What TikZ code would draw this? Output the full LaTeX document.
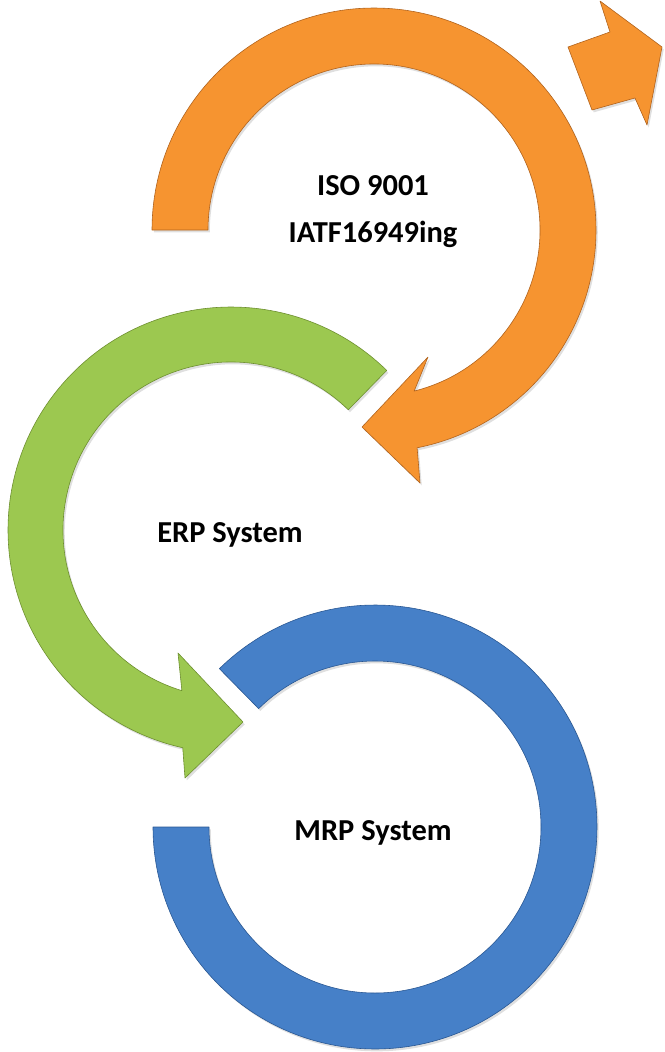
\documentclass[tikz,border=0pt]{standalone}
\usepackage{fontspec}
\setmainfont{Carlito}
\usepackage{xcolor}
\usetikzlibrary{calc}
\usetikzlibrary{shadows}

\definecolor{isofill}{RGB}{246,148,48}
\definecolor{isoedge}{RGB}{176,98,28}
\definecolor{erpfill}{RGB}{156,200,80}
\definecolor{erpedge}{RGB}{108,142,46}
\definecolor{mrpfill}{RGB}{70,128,200}
\definecolor{mrpedge}{RGB}{40,86,146}

\begin{document}
\begin{tikzpicture}[x=0.03cm, y=-0.03cm,
    ringarrow/.style={line width=0.5pt, line join=round,
      drop shadow={opacity=0.25, shadow xshift=1.5pt, shadow yshift=-2pt}},
    ringlabel/.style={font=\bfseries\fontsize{26}{40}\selectfont, align=center}]
  % picture in pixel units, origin at upper left corner
  \useasboundingbox (0,0) rectangle (664,1052);
  \def\rout{222}
  \def\rin{166}
  % centres of the three rings
  \coordinate (isoc) at (374,230);
  \coordinate (erpc) at (231,530);
  \coordinate (mrpc) at (375,827);

  % orange ring arrow, clockwise from the left end
  \path[ringarrow, fill=isofill, draw=isoedge]
    ($(isoc)+(180:\rout)$) arc[start angle=180, end angle=438.8, radius=\rout]
    -- (420,483) -- (362,427) -- (428,357)
    -- ($(isoc)+(436:\rin)$) arc[start angle=436, end angle=180, radius=\rin] -- cycle;
  % small orange block arrow, upper right
  \path[ringarrow, fill=isofill, draw=isoedge]
    (568,47) -- (610,32) -- (600,1) -- (662,47) -- (647,125) -- (635,98) -- (592,110) -- cycle;

  % green ring arrow, anticlockwise from the upper right end
  \def\rout{223}
  \def\rin{168}
  \path[ringarrow, fill=erpfill, draw=erpedge]
    ($(erpc)+(-45.7:\rout)$) arc[start angle=-45.7, end angle=-257.5, radius=\rout]
    -- (185,778) -- (243,722) -- (178,653)
    -- ($(erpc)+(-253:\rin)$) arc[start angle=-253, end angle=-45.7, radius=\rin] -- cycle;

  % blue open ring
  \def\rout{222}
  \def\rin{166}
  \path[ringarrow, fill=mrpfill, draw=mrpedge]
    ($(mrpc)+(-134.5:\rout)$) arc[start angle=-134.5, end angle=180, radius=\rout]
    -- ($(mrpc)+(180:\rin)$) arc[start angle=180, end angle=-134.5, radius=\rin] -- cycle;

  \node[ringlabel] (iso) at (373,212) {ISO 9001\\IATF16949ing};
  \node[ringlabel] (erp) at (230,535) {ERP System};
  \node[ringlabel] (mrp) at (373,833) {MRP System};
\end{tikzpicture}
\end{document}
